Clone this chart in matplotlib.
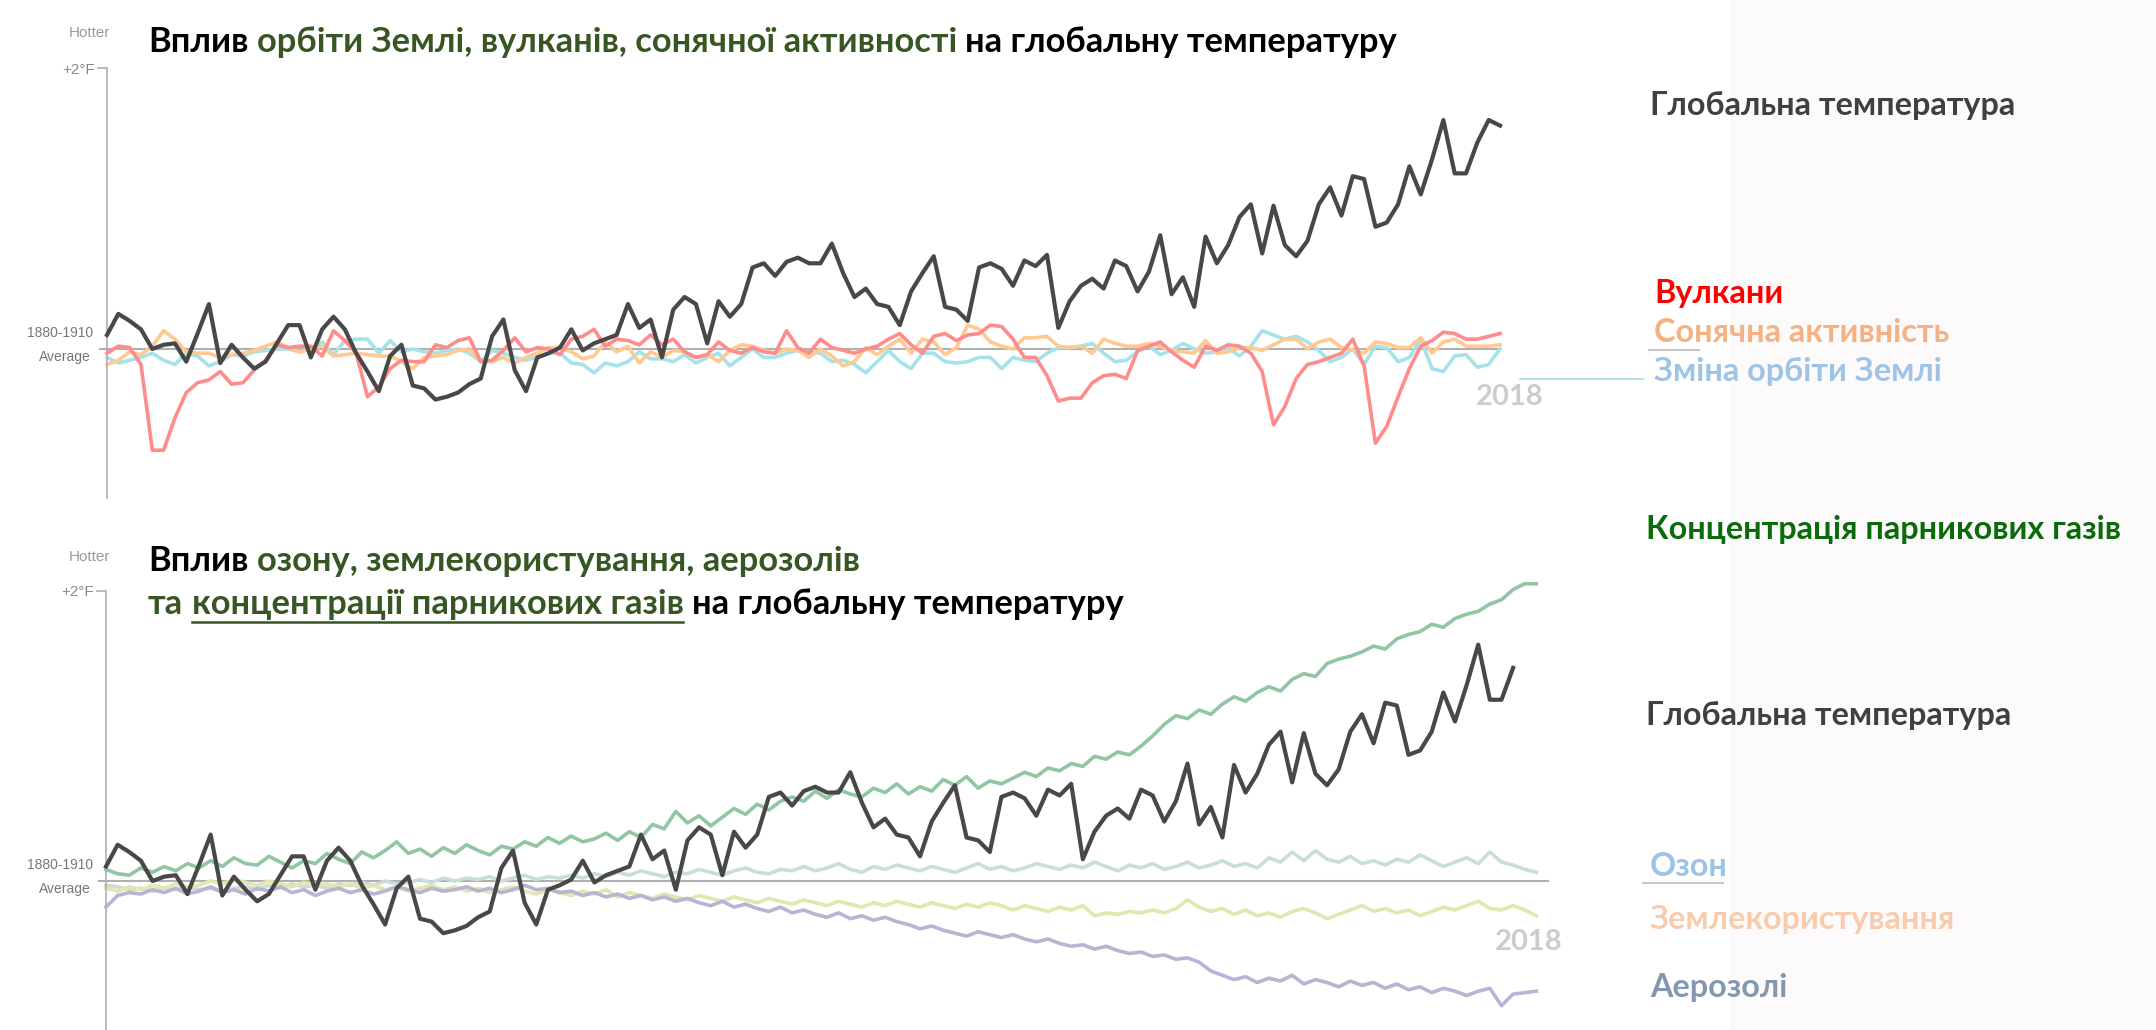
import numpy as np
import matplotlib.pyplot as plt
from matplotlib.lines import Line2D
from matplotlib.patches import Rectangle

# ---- data (deg F relative to 1880-1910 average) ----
years = list(range(1880, 2004))

global_temp = [0.10, 0.25, 0.20, 0.14, 0.00, 0.03, 0.04, -0.09, 0.11, 0.32,
               -0.10, 0.03, -0.06, -0.14, -0.09, 0.04, 0.17, 0.17, -0.06, 0.14,
               0.23, 0.14, -0.03, -0.16, -0.30, -0.05, 0.03, -0.26, -0.28, -0.36,
               -0.34, -0.31, -0.25, -0.21, 0.09, 0.21, -0.15, -0.30, -0.06, -0.03,
               0.01, 0.14, -0.01, 0.04, 0.07, 0.10, 0.32, 0.15, 0.21, -0.06,
               0.28, 0.37, 0.32, 0.04, 0.34, 0.23, 0.32, 0.58, 0.61, 0.52,
               0.62, 0.65, 0.61, 0.61, 0.75, 0.54, 0.37, 0.43, 0.32, 0.30,
               0.17, 0.41, 0.54, 0.66, 0.30, 0.28, 0.20, 0.58, 0.61, 0.57,
               0.45, 0.63, 0.59, 0.67, 0.15, 0.34, 0.45, 0.50, 0.43, 0.63,
               0.59, 0.41, 0.55, 0.81, 0.39, 0.51, 0.30, 0.80, 0.61, 0.74,
               0.94, 1.03, 0.68, 1.02, 0.74, 0.66, 0.77, 1.03, 1.15, 0.95,
               1.23, 1.21, 0.87, 0.90, 1.03, 1.30, 1.10, 1.35, 1.63, 1.25,
               1.25, 1.47, 1.63, 1.59]

volcanoes = [-0.03, 0.02, 0.01, -0.11, -0.72, -0.72, -0.49, -0.31, -0.24, -0.22,
             -0.16, -0.25, -0.24, -0.15, -0.08, 0.03, 0.01, 0.02, 0.02, -0.05,
             0.13, 0.06, -0.03, -0.34, -0.27, -0.14, -0.08, -0.09, -0.09, 0.03,
             0.01, 0.06, 0.08, -0.09, -0.08, -0.01, 0.08, -0.02, 0.01, 0.00,
             -0.04, 0.07, 0.09, 0.14, 0.02, 0.07, 0.06, 0.03, 0.10, 0.03,
             0.07, -0.02, -0.06, -0.04, 0.05, -0.01, -0.03, 0.01, -0.02, -0.03,
             0.13, 0.01, -0.03, 0.07, 0.01, -0.01, -0.03, 0.00, 0.02, 0.07,
             0.11, 0.03, -0.03, 0.09, 0.11, 0.06, 0.10, 0.11, 0.17, 0.16,
             0.07, -0.06, -0.06, -0.19, -0.37, -0.35, -0.35, -0.24, -0.19, -0.18,
             -0.21, -0.01, 0.02, 0.05, -0.02, -0.08, -0.13, 0.02, -0.01, 0.03,
             0.02, -0.03, -0.16, -0.54, -0.41, -0.21, -0.11, -0.09, -0.06, -0.03,
             0.07, -0.12, -0.67, -0.55, -0.34, -0.14, 0.02, 0.06, 0.12, 0.11,
             0.07, 0.07, 0.09, 0.11]

solar = [-0.11, -0.08, -0.02, -0.04, 0.02, 0.13, 0.07, -0.02, -0.03, -0.03,
         -0.06, -0.04, -0.03, -0.01, 0.02, 0.05, 0.01, -0.02, 0.00, 0.02,
         -0.05, -0.04, -0.03, -0.04, -0.05, -0.05, -0.09, -0.14, -0.06, -0.05,
         -0.04, -0.01, 0.00, -0.09, -0.09, -0.06, -0.10, -0.06, -0.03, 0.01,
         0.01, -0.02, -0.07, -0.05, 0.05, -0.02, 0.02, -0.10, -0.02, -0.06,
         -0.01, -0.02, -0.06, -0.04, -0.09, -0.01, 0.03, 0.02, -0.01, -0.03,
         0.00, -0.01, -0.06, 0.00, -0.05, -0.12, -0.09, 0.01, -0.04, 0.02,
         0.07, -0.03, 0.07, 0.05, -0.04, 0.01, 0.17, 0.14, 0.05, 0.02,
         0.00, 0.08, 0.08, 0.09, 0.02, 0.01, 0.02, -0.03, 0.07, 0.04,
         0.02, 0.02, 0.04, 0.02, -0.01, -0.02, -0.03, 0.06, -0.03, -0.02,
         0.01, 0.01, -0.01, 0.03, 0.07, 0.07, 0.00, 0.05, 0.07, 0.01,
         -0.01, -0.03, 0.05, 0.04, 0.01, 0.01, 0.08, -0.03, 0.05, 0.07,
         0.02, 0.02, 0.02, 0.03]

orbit = [-0.06, -0.10, -0.08, -0.06, -0.03, -0.08, -0.11, -0.03, -0.05, -0.12,
         -0.09, -0.04, -0.05, -0.02, -0.01, 0.00, 0.00, -0.02, 0.00, 0.05,
         -0.04, 0.06, 0.07, 0.07, -0.03, 0.06, -0.02, 0.00, -0.02, -0.03,
         -0.01, 0.00, -0.03, -0.09, -0.01, -0.03, -0.06, -0.08, -0.06, -0.03,
         -0.03, -0.10, -0.11, -0.17, -0.10, -0.12, -0.09, -0.02, -0.07, -0.07,
         -0.09, -0.04, -0.10, -0.06, -0.03, -0.12, -0.06, 0.00, -0.06, -0.06,
         -0.03, -0.01, -0.02, -0.03, -0.09, -0.08, -0.11, -0.17, -0.09, -0.01,
         -0.09, -0.14, -0.03, -0.03, -0.09, -0.10, -0.09, -0.06, -0.06, -0.14,
         -0.06, -0.08, -0.09, -0.03, 0.01, 0.01, 0.02, 0.04, -0.03, -0.09,
         -0.08, -0.02, 0.02, -0.04, -0.01, 0.04, 0.00, -0.03, -0.02, 0.01,
         -0.05, 0.02, 0.13, 0.10, 0.07, 0.09, 0.05, -0.01, -0.09, -0.06,
         0.00, -0.11, 0.02, 0.01, -0.09, -0.06, 0.07, -0.14, -0.16, -0.05,
         -0.04, -0.13, -0.11, 0.00]

ghg = [0.08, 0.05, 0.04, 0.09, 0.06, 0.10, 0.07, 0.12, 0.09, 0.14,
       0.10, 0.16, 0.12, 0.11, 0.17, 0.13, 0.09, 0.14, 0.12, 0.19,
       0.15, 0.12, 0.20, 0.16, 0.21, 0.27, 0.19, 0.22, 0.17, 0.23,
       0.19, 0.25, 0.21, 0.18, 0.24, 0.22, 0.27, 0.24, 0.30, 0.26,
       0.31, 0.27, 0.29, 0.33, 0.28, 0.34, 0.30, 0.39, 0.36, 0.48,
       0.40, 0.45, 0.38, 0.44, 0.50, 0.46, 0.53, 0.49, 0.55, 0.58,
       0.55, 0.62, 0.57, 0.63, 0.60, 0.58, 0.64, 0.61, 0.67, 0.60,
       0.65, 0.62, 0.70, 0.66, 0.72, 0.64, 0.69, 0.67, 0.71, 0.75,
       0.72, 0.78, 0.76, 0.81, 0.79, 0.86, 0.84, 0.89, 0.87, 0.93,
       1.00, 1.08, 1.14, 1.12, 1.18, 1.15, 1.22, 1.27, 1.24, 1.30,
       1.34, 1.31, 1.39, 1.43, 1.41, 1.50, 1.53, 1.55, 1.58, 1.62,
       1.60, 1.67, 1.70, 1.72, 1.77, 1.75, 1.81, 1.84, 1.86, 1.91,
       1.94, 2.01, 2.05, 2.05]

ozone = [-0.03, -0.04, -0.06, -0.05, -0.07, -0.05, -0.06, -0.04, -0.06, -0.05,
         -0.07, -0.05, -0.04, -0.06, -0.03, -0.05, -0.02, -0.04, -0.03, -0.05,
         -0.02, -0.03, -0.01, -0.03, 0.00, -0.02, -0.01, 0.01, -0.01, 0.02,
         0.00, 0.02, 0.01, 0.03, 0.00, 0.02, 0.04, 0.01, 0.03, 0.02,
         0.04, 0.02, 0.05, 0.03, 0.06, 0.04, 0.07, 0.05, 0.03, 0.06,
         0.05, 0.08, 0.06, 0.04, 0.07, 0.09, 0.06, 0.05, 0.08, 0.07,
         0.10, 0.07, 0.09, 0.12, 0.08, 0.06, 0.10, 0.08, 0.11, 0.09,
         0.07, 0.10, 0.08, 0.06, 0.09, 0.12, 0.08, 0.10, 0.07, 0.09,
         0.12, 0.10, 0.08, 0.11, 0.09, 0.13, 0.10, 0.07, 0.11, 0.09,
         0.12, 0.08, 0.10, 0.13, 0.09, 0.11, 0.14, 0.10, 0.12, 0.09,
         0.16, 0.13, 0.20, 0.14, 0.21, 0.15, 0.13, 0.17, 0.12, 0.14,
         0.11, 0.15, 0.13, 0.18, 0.14, 0.10, 0.13, 0.16, 0.12, 0.20,
         0.13, 0.11, 0.08, 0.06]

land_use = [-0.05, -0.07, -0.04, -0.06, -0.03, -0.05, -0.02, -0.04, -0.03, 0.00,
            -0.02, 0.01, -0.01, -0.03, 0.00, -0.02, -0.04, -0.01, -0.03, -0.02,
            -0.04, -0.02, -0.05, -0.03, -0.06, -0.04, -0.07, -0.05, -0.03, -0.06,
            -0.04, -0.07, -0.05, -0.08, -0.06, -0.04, -0.07, -0.09, -0.06, -0.08,
            -0.10, -0.07, -0.09, -0.06, -0.11, -0.08, -0.10, -0.12, -0.09, -0.11,
            -0.13, -0.10, -0.12, -0.14, -0.11, -0.13, -0.15, -0.12, -0.14, -0.16,
            -0.13, -0.15, -0.17, -0.14, -0.16, -0.18, -0.15, -0.17, -0.14, -0.16,
            -0.18, -0.15, -0.17, -0.19, -0.16, -0.18, -0.15, -0.17, -0.20, -0.17,
            -0.19, -0.21, -0.18, -0.20, -0.17, -0.24, -0.22, -0.23, -0.21, -0.22,
            -0.20, -0.22, -0.19, -0.13, -0.18, -0.21, -0.19, -0.23, -0.20, -0.24,
            -0.22, -0.25, -0.21, -0.19, -0.22, -0.26, -0.23, -0.20, -0.17, -0.21,
            -0.19, -0.22, -0.20, -0.24, -0.21, -0.18, -0.20, -0.17, -0.14, -0.19,
            -0.20, -0.17, -0.20, -0.24]

aerosols = [-0.18, -0.10, -0.08, -0.09, -0.06, -0.08, -0.05, -0.09, -0.07, -0.04,
            -0.08, -0.06, -0.09, -0.05, -0.07, -0.04, -0.08, -0.06, -0.10, -0.07,
            -0.05, -0.08, -0.06, -0.09, -0.07, -0.04, -0.06, -0.08, -0.05, -0.07,
            -0.06, -0.04, -0.07, -0.05, -0.08, -0.06, -0.03, -0.06, -0.05, -0.08,
            -0.07, -0.10, -0.08, -0.11, -0.09, -0.12, -0.10, -0.13, -0.11, -0.14,
            -0.12, -0.15, -0.17, -0.14, -0.18, -0.16, -0.19, -0.21, -0.18, -0.22,
            -0.20, -0.23, -0.25, -0.22, -0.26, -0.24, -0.27, -0.25, -0.28, -0.30,
            -0.33, -0.31, -0.34, -0.36, -0.38, -0.35, -0.37, -0.39, -0.37, -0.40,
            -0.42, -0.40, -0.43, -0.45, -0.44, -0.47, -0.45, -0.48, -0.50, -0.49,
            -0.52, -0.51, -0.54, -0.53, -0.56, -0.62, -0.65, -0.68, -0.66, -0.70,
            -0.67, -0.69, -0.65, -0.71, -0.68, -0.70, -0.73, -0.69, -0.72, -0.70,
            -0.74, -0.71, -0.75, -0.73, -0.77, -0.74, -0.76, -0.79, -0.76, -0.74,
            -0.86, -0.78, -0.77, -0.76]

# the lower panel shows the temperature curve only up to this year
bottom_temp_end = 2001

# ---- figure ----
W, H = 2156, 1030
fig = plt.figure(figsize=(W / 100, H / 100), dpi=100)
fig.patch.set_facecolor('white')

TITLE_FONT = ['Lato', 'DejaVu Sans']
SMALL_FONT = ['Liberation Sans', 'DejaVu Sans']
NARROW_FONT = ['Liberation Sans Narrow', 'Liberation Sans', 'DejaVu Sans']
GREEN = '#375623'
AXIS_GRAY = '#b0b0b0'


def fx(x):
    return x / W


def fy(y):
    return 1 - y / H


def rect(x0, y0, x1, y1):
    return [x0 / W, 1 - y1 / H, (x1 - x0) / W, (y1 - y0) / H]


def hline(x0, x1, y, color, lw=1.3):
    fig.add_artist(Line2D([fx(x0), fx(x1)], [fy(y), fy(y)], color=color, lw=lw,
                          transform=fig.transFigure))


# light panel on the right
fig.add_artist(Rectangle((fx(1730), 0), 1 - fx(1730), 1, transform=fig.transFigure,
                         facecolor='#fcfafb', edgecolor='none', zorder=0))


def setup_axes(box, zero_px, px_per_deg, width_px):
    ax = fig.add_axes(rect(*box))
    ax.patch.set_alpha(0)
    y0, y1 = box[1], box[3]
    ax.set_ylim((zero_px - y1) / px_per_deg, (zero_px - y0) / px_per_deg)
    for s in ['top', 'right', 'bottom']:
        ax.spines[s].set_visible(False)
    ax.spines['left'].set_color(AXIS_GRAY)
    ax.spines['left'].set_linewidth(1.2)
    ax.spines['left'].set_bounds(ax.get_ylim()[0], 2.0)
    ax.set_xticks([])
    ax.set_yticks([2])
    ax.set_yticklabels(['+2°F'], family=NARROW_FONT, fontsize=11, color='#8a8a8a')
    ax.tick_params(axis='y', length=7, width=1.2, color=AXIS_GRAY, pad=2)
    ax.plot([-7 / width_px, 1.0], [0, 0], transform=ax.get_yaxis_transform(),
            color=AXIS_GRAY, lw=1.5, clip_on=False, zorder=1)
    return ax


# ---- top chart ----
ax1 = setup_axes((107, 40, 1500, 498), 349, 140.5, 1393)
ax1.set_xlim(years[0], years[-1])
ax1.plot(years, orbit, color='#a6e3e9', lw=2.6, clip_on=False, zorder=2)
ax1.plot(years, solar, color='#ffc990', lw=2.6, clip_on=False, zorder=2)
ax1.plot(years, volcanoes, color='#ff8c8c', lw=2.6, clip_on=False, zorder=3)
ax1.plot(years, global_temp, color='#484848', lw=3.0, clip_on=False, zorder=4)

# ---- bottom chart ----
ax2 = setup_axes((106, 575, 1548, 1030), 881, 145, 1442)
ax2.set_xlim(1880, 2004)
ax2.plot(years, ozone, color='#c9ded7', lw=2.6, clip_on=False, zorder=2)
ax2.plot(years, land_use, color='#e3e6ae', lw=2.6, clip_on=False, zorder=2)
ax2.plot(years, aerosols, color='#b7b5d4', lw=2.6, clip_on=False, zorder=2)
ax2.plot(years, ghg, color='#90c6a3', lw=2.6, clip_on=False, zorder=3)
n_b = years.index(bottom_temp_end) + 1
ax2.plot(years[:n_b], global_temp[:n_b], color='#484848', lw=3.0, clip_on=False, zorder=4)

# ---- axis side texts ----
for hy, avg_y in [(33, 349), (557, 881)]:
    fig.text(fx(110), fy(hy), 'Hotter', ha='right', va='center', family=NARROW_FONT,
             fontsize=11, color='#9a9a9a')
    fig.text(fx(93), fy(avg_y - 16), '1880-1910', ha='right', va='center',
             family=SMALL_FONT, fontsize=10, color='#777777')
    fig.text(fx(91), fy(avg_y + 8), 'Average', ha='right', va='center',
             family=SMALL_FONT, fontsize=10, color='#777777')

fig.text(fx(1510), fy(397), '2018', ha='center', va='center', family=TITLE_FONT,
         fontweight='bold', fontsize=21, color='#cccccc')
fig.text(fx(1529), fy(942), '2018', ha='center', va='center', family=TITLE_FONT,
         fontweight='bold', fontsize=21, color='#cccccc')

# ---- titles (multi-coloured) ----
renderer = fig.canvas.get_renderer()
TSIZE = 24.8


def space_width(size):
    a = fig.text(0, 0, 'x x', family=TITLE_FONT, fontweight='bold', fontsize=size)
    b = fig.text(0, 0, 'xx', family=TITLE_FONT, fontweight='bold', fontsize=size)
    w = a.get_window_extent(renderer).width - b.get_window_extent(renderer).width
    a.remove()
    b.remove()
    return w


SP = space_width(TSIZE)


def colored_line(x, y, parts, size=TSIZE):
    x = float(x)
    texts = []
    for s, c in parts:
        t = fig.text(fx(x), fy(y), s, color=c, ha='left', va='baseline',
                     family=TITLE_FONT, fontweight='bold', fontsize=size)
        bb = t.get_window_extent(renderer)
        texts.append(t)
        x = bb.x1 + SP
    return texts


colored_line(148, 52, [('Вплив', 'black'),
                       ('орбіти Землі, вулканів, сонячної активності', GREEN),
                       ('на глобальну температуру', 'black')])
colored_line(148, 571, [('Вплив', 'black'),
                        ('озону, землекористування, аерозолів', GREEN)])
line2 = colored_line(148, 614, [('та', GREEN),
                                ('концентрації парникових газів', GREEN),
                                ('на глобальну температуру', 'black')])
ub = line2[1].get_window_extent(renderer)
hline(ub.x0, ub.x1, 622, GREEN, lw=1.8)

# ---- right-hand labels ----
labels = [
    ('Глобальна температура', 1650, 106, '#404040'),
    ('Вулкани', 1654, 293, '#ff0000'),
    ('Сонячна активність', 1654, 333, '#f4b183'),
    ('Зміна орбіти Землі', 1654, 371, '#9dc3e6'),
    ('Концентрація парникових газів', 1646, 529, '#0b6b0b'),
    ('Глобальна температура', 1646, 716, '#404040'),
    ('Озон', 1650, 866, '#9dc3e6'),
    ('Землекористування', 1650, 920, '#f8cbad'),
    ('Аерозолі', 1650, 987, '#8497b0'),
]
for text, x, y, c in labels:
    fig.text(fx(x), fy(y), text, ha='left', va='center', family=TITLE_FONT,
             fontweight='bold', fontsize=23.3, color=c)

# connector strokes next to the labels
hline(1649, 1699, 350, '#c8c8c8', lw=1.5)
hline(1520, 1643, 379, '#a6dce3', lw=1.2)
hline(1643, 1723, 883, '#c8c8c8', lw=1.5)

fig.savefig('out.png', dpi=100)
